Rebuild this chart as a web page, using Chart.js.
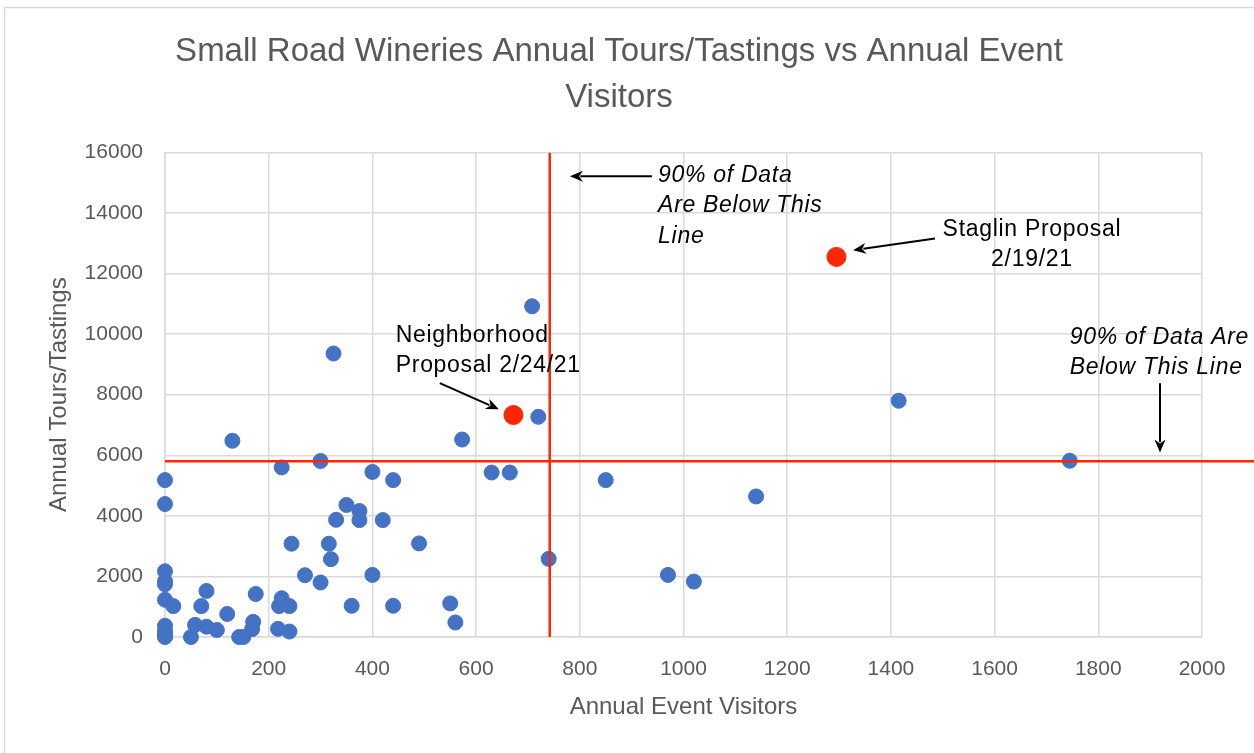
<!DOCTYPE html>
<html>
<head>
<meta charset="utf-8">
<title>Small Road Wineries</title>
<script src="https://cdn.jsdelivr.net/npm/chart.js@4.4.1/dist/chart.umd.min.js"></script>
<style>
  html, body { margin: 0; padding: 0; background: #fff; }
  canvas { display: block; }
</style>
</head>
<body>
<canvas id="chart" width="1254" height="753"></canvas>
<script>
// wineries: annual event visitors (x) vs annual tours/tastings (y)
let visitors = [0, 0, 0, 0, 0, 0, 0, 0, 0, 0, 0,
  16, 50, 58, 70, 80, 80, 100, 120, 130, 143, 151, 168, 170, 175,
  218, 220, 225, 225, 240, 240, 244, 270, 300, 300, 316, 320, 325, 330,
  350, 360, 375, 375, 400, 400, 420, 440, 440, 490, 550, 560, 573,
  630, 665, 708, 720, 740, 850, 970, 1020, 1140, 1415, 1745];
let tours = [5180, 4390, 2170, 1840, 1740, 1230, 370, 200, 100, 20, 0,
  1020, 0, 400, 1020, 1520, 340, 230, 760, 6480, 0, 0, 260, 500, 1420,
  270, 1020, 1280, 5600, 1020, 180, 3080, 2040, 5810, 1800, 3080, 2570, 9360, 3870,
  4360, 1030, 4160, 3860, 5450, 2050, 3860, 5180, 1030, 3090, 1110, 480, 6520,
  5430, 5430, 10920, 7270, 2580, 5180, 2050, 1830, 4640, 7800, 5820];

let proposalNames = ["Neighborhood", "Staglin"];
let proposalVisitors = [672, 1295];
let proposalTours = [7330, 12550];

// 90% cut-off lines
let visitorCutoff = 742;
let tourCutoff = 5800;

let xTicks = [0, 200, 400, 600, 800, 1000, 1200, 1400, 1600, 1800, 2000];
let yTicks = [0, 2000, 4000, 6000, 8000, 10000, 12000, 14000, 16000];

let wineries = visitors.map((v, i) => ({ x: v, y: tours[i] }));
let proposals = proposalVisitors.map((v, i) => ({ x: v, y: proposalTours[i] }));

// callouts placed in data units
let notes = [
  { lines: ["90% of Data", "Are Below This", "Line"], x: 951, y: 15240, italic: true, align: "left" },
  { lines: ["Staglin Proposal", "2/19/21"], x: 1672, y: 13460, italic: false, align: "center" },
  { lines: ["Neighborhood", "Proposal 2/24/21"], x: 445, y: 9960, italic: false, align: "left" },
  { lines: ["90% of Data Are", "Below This Line"], x: 1745, y: 9900, italic: true, align: "left" },
];
let arrows = [
  { from: [939, 15210], to: [781, 15210] },
  { from: [1485, 13160], to: [1327, 12770] },
  { from: [530, 8380], to: [644, 7520] },
  { from: [1919, 8380], to: [1919, 6090] },
];

let font = "'Liberation Sans', Arial, sans-serif";

let framePlugin = {
  id: "frame",
  beforeDraw(chart) {
    let ctx = chart.ctx;
    ctx.save();
    ctx.fillStyle = "#fff";
    ctx.fillRect(0, 0, chart.width, chart.height);
    ctx.strokeStyle = "#d9d9d9";
    ctx.lineWidth = 1.5;
    ctx.strokeRect(4.5, 7.5, chart.width + 20, chart.height + 20);
    ctx.restore();
  },
};

let calloutPlugin = {
  id: "callouts",
  afterDatasetsDraw(chart) {
    let ctx = chart.ctx;
    let xs = chart.scales.x;
    let ys = chart.scales.y;
    ctx.save();
    ctx.fillStyle = "#000";
    ctx.strokeStyle = "#000";
    ctx.textBaseline = "middle";
    ctx.letterSpacing = "0.7px";

    notes.forEach((n) => {
      ctx.font = (n.italic ? "italic " : "") + "23px " + font;
      ctx.textAlign = n.align;
      let px = xs.getPixelForValue(n.x);
      let py = ys.getPixelForValue(n.y);
      n.lines.forEach((line, i) => ctx.fillText(line, px, py + i * 30.5));
    });

    arrows.forEach((a) => {
      let x1 = xs.getPixelForValue(a.from[0]);
      let y1 = ys.getPixelForValue(a.from[1]);
      let x2 = xs.getPixelForValue(a.to[0]);
      let y2 = ys.getPixelForValue(a.to[1]);
      let ang = Math.atan2(y2 - y1, x2 - x1);
      let head = 13;
      ctx.lineWidth = 2;
      ctx.beginPath();
      ctx.moveTo(x1, y1);
      ctx.lineTo(x2 - Math.cos(ang) * head * 0.8, y2 - Math.sin(ang) * head * 0.8);
      ctx.stroke();
      ctx.beginPath();
      ctx.moveTo(x2, y2);
      ctx.lineTo(x2 - head * Math.cos(ang) + 5.5 * Math.sin(ang), y2 - head * Math.sin(ang) - 5.5 * Math.cos(ang));
      ctx.lineTo(x2 - head * 0.7 * Math.cos(ang), y2 - head * 0.7 * Math.sin(ang));
      ctx.lineTo(x2 - head * Math.cos(ang) - 5.5 * Math.sin(ang), y2 - head * Math.sin(ang) + 5.5 * Math.cos(ang));
      ctx.closePath();
      ctx.fill();
    });
    ctx.restore();
  },
};

let padLeft = 36;
let padBottom = 20;

new Chart(document.getElementById("chart"), {
  type: "scatter",
  data: {
    datasets: [
      {
        label: "Proposals",
        data: proposals,
        backgroundColor: "#ff2600",
        borderColor: "#ff2600",
        pointRadius: 9.5,
        order: 0,
      },
      {
        label: "Visitor cut-off",
        type: "line",
        data: [{ x: visitorCutoff, y: 0 }, { x: visitorCutoff, y: 16000 }],
        borderColor: "#ff2600",
        borderWidth: 2.5,
        pointRadius: 0,
        order: 1,
      },
      {
        label: "Tour cut-off",
        type: "line",
        data: [{ x: 0, y: tourCutoff }, { x: 2120, y: tourCutoff }],
        borderColor: "#ff2600",
        borderWidth: 2.5,
        pointRadius: 0,
        clip: false,
        order: 1,
      },
      {
        label: "Wineries",
        data: wineries,
        backgroundColor: "#4472c4",
        borderColor: "#4472c4",
        pointRadius: 7.5,
        clip: false,
        order: 2,
      },
    ],
  },
  options: {
    responsive: false,
    animation: false,
    layout: { padding: { left: padLeft, right: 52, top: 0, bottom: padBottom } },
    plugins: {
      legend: { display: false },
      tooltip: { enabled: false },
      title: {
        display: true,
        text: ["Small Road Wineries Annual Tours/Tastings vs Annual Event", "Visitors"],
        color: "#595959",
        font: { family: font, size: 33, weight: "normal", lineHeight: 1.4 },
        padding: { top: 29, bottom: 31 },
      },
    },
    scales: {
      x: {
        type: "linear",
        min: 0,
        max: 2000,
        afterBuildTicks: (s) => { s.ticks = xTicks.map((v) => ({ value: v })); },
        afterFit: (s) => { s.height = 753 - 637 - padBottom; },
        grid: { color: "#d9d9d9", lineWidth: 1.5, drawTicks: false },
        border: { color: "#d9d9d9", width: 1.5 },
        ticks: { color: "#595959", padding: 20, font: { family: font, size: 21 }, callback: (v) => String(v) },
        title: {
          display: true,
          text: "Annual Event Visitors",
          color: "#595959",
          font: { family: font, size: 24 },
          padding: { top: 0, bottom: 11 },
        },
      },
      y: {
        type: "linear",
        min: 0,
        max: 16000,
        afterBuildTicks: (s) => { s.ticks = yTicks.map((v) => ({ value: v })); },
        afterFit: (s) => { s.width = 165 - padLeft; },
        grid: { color: "#d9d9d9", lineWidth: 1.5, drawTicks: false },
        border: { color: "#d9d9d9", width: 1.5 },
        ticks: { color: "#595959", padding: 22, font: { family: font, size: 21 }, callback: (v) => String(v) },
        title: {
          display: true,
          text: "Annual Tours/Tastings",
          color: "#595959",
          font: { family: font, size: 24 },
          padding: { top: 9, bottom: 0 },
        },
      },
    },
  },
  plugins: [framePlugin, calloutPlugin],
});
</script>
</body>
</html>
